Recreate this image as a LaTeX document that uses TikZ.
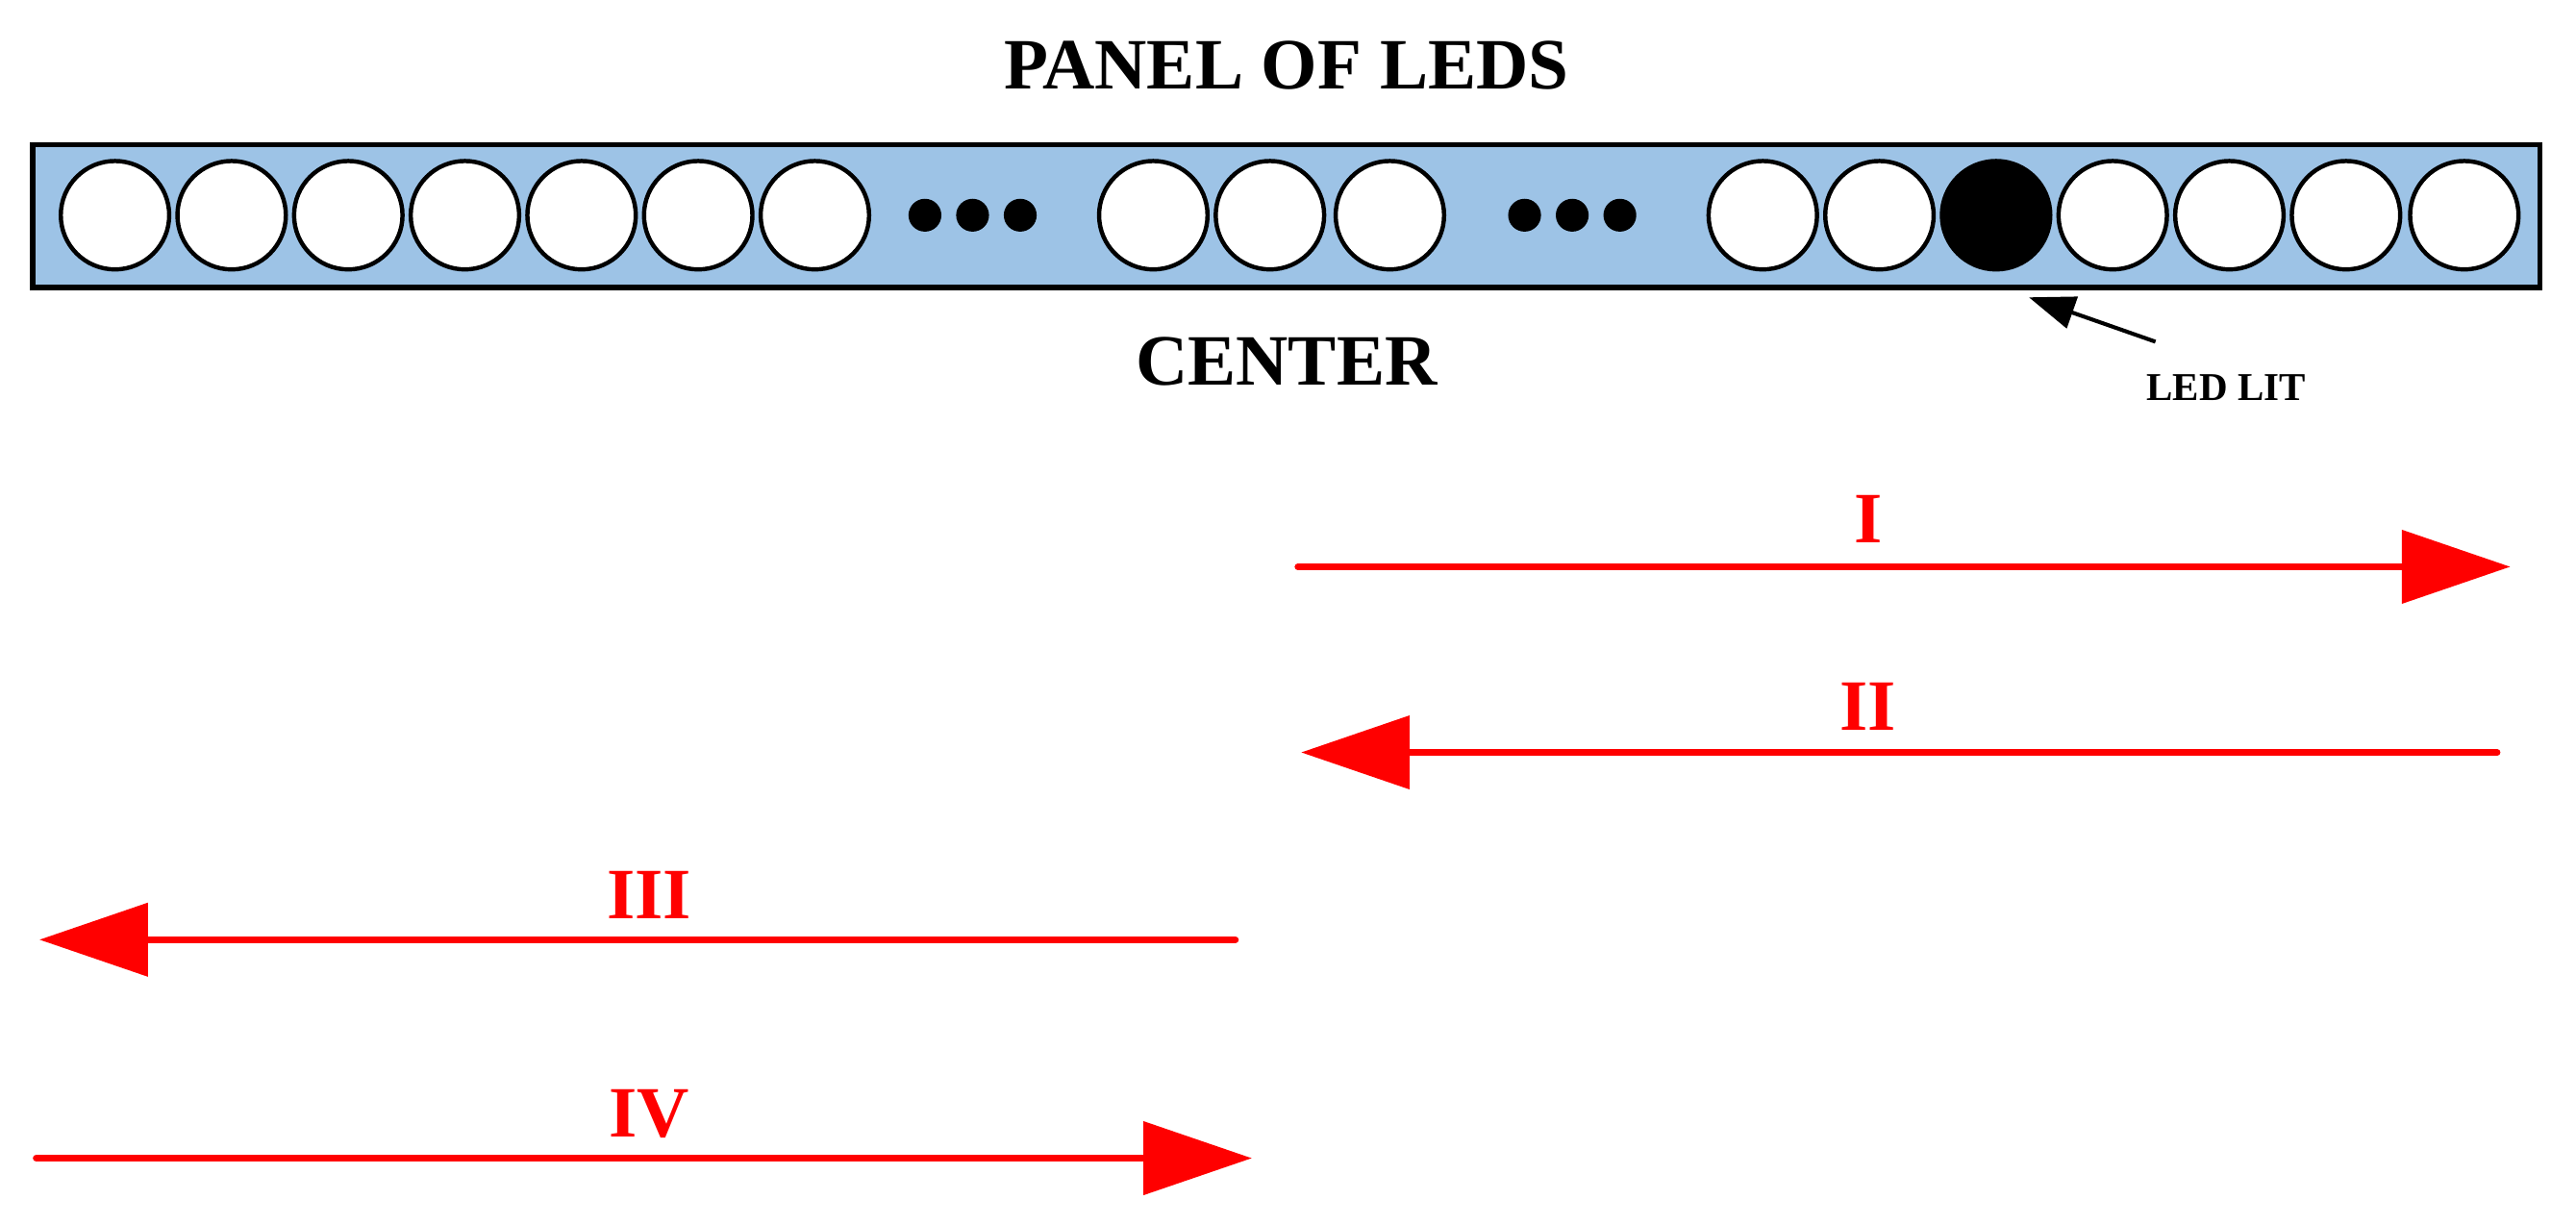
\documentclass[tikz,border=0pt]{standalone}
\usepackage{fontspec}
\setmainfont{Liberation Serif}
\usetikzlibrary{arrows.meta}
\definecolor{panel}{HTML}{9DC3E6}
\begin{document}
\begin{tikzpicture}[x=0.5pt,y=-0.5pt,
  led/.style={circle,draw=black,line width=1.3pt,minimum size=33pt,inner sep=0pt,fill=white},
  dot/.style={circle,fill=black,minimum size=10pt,inner sep=0pt},
  big/.style={font=\fontsize{22}{24}\selectfont\bfseries},
  lab/.style={font=\fontsize{22}{24}\selectfont\bfseries,text=red},
  redarrow/.style={draw=red,line width=2pt,line cap=round,-{Triangle[length=33pt,width=22pt]}}]
\useasboundingbox (0,0) rectangle (1568,745);
\node[big] (title) at (783,40) {PANEL OF LEDS};
\node[draw=black,line width=1.6pt,fill=panel,minimum width=763pt,minimum height=43.5pt,inner sep=0pt] (panel) at (783,131.5) {};
\foreach \x [count=\i] in {70,141,212,283,354,425,496,702,773,846,1073,1144,1286,1357,1428,1500}
  \node[led] (l\i) at (\x,131) {};
\node[led,fill=black] (lit) at (1215,131) {};
\foreach \x [count=\i] in {563,592,621,928,957,986}
  \node[dot] (d\i) at (\x,131) {};
\node[big] (center) at (783,220) {CENTER};
\node[font=\fontsize{12}{14}\selectfont\bfseries] (ledlit) at (1355,236) {LED LIT};
\coordinate (ls) at (1312,208);
\coordinate (le) at (1235,181);
\draw[line width=1.2pt,-{Triangle[length=14pt,width=10pt]}] (ls) -- (le);
\coordinate (a1) at (790,345); \coordinate (b1) at (1528,345);
\coordinate (a2) at (1520,458); \coordinate (b2) at (792,458);
\coordinate (a3) at (752,572); \coordinate (b3) at (24,572);
\coordinate (a4) at (22,705); \coordinate (b4) at (762,705);
\draw[redarrow] (a1) -- (b1);
\draw[redarrow] (a2) -- (b2);
\draw[redarrow] (a3) -- (b3);
\draw[redarrow] (a4) -- (b4);
\node[lab] (t1) at (1137,316) {I};
\node[lab] (t2) at (1137,430) {II};
\node[lab] (t3) at (395,545) {III};
\node[lab] (t4) at (395,678) {IV};
\end{tikzpicture}
\end{document}
